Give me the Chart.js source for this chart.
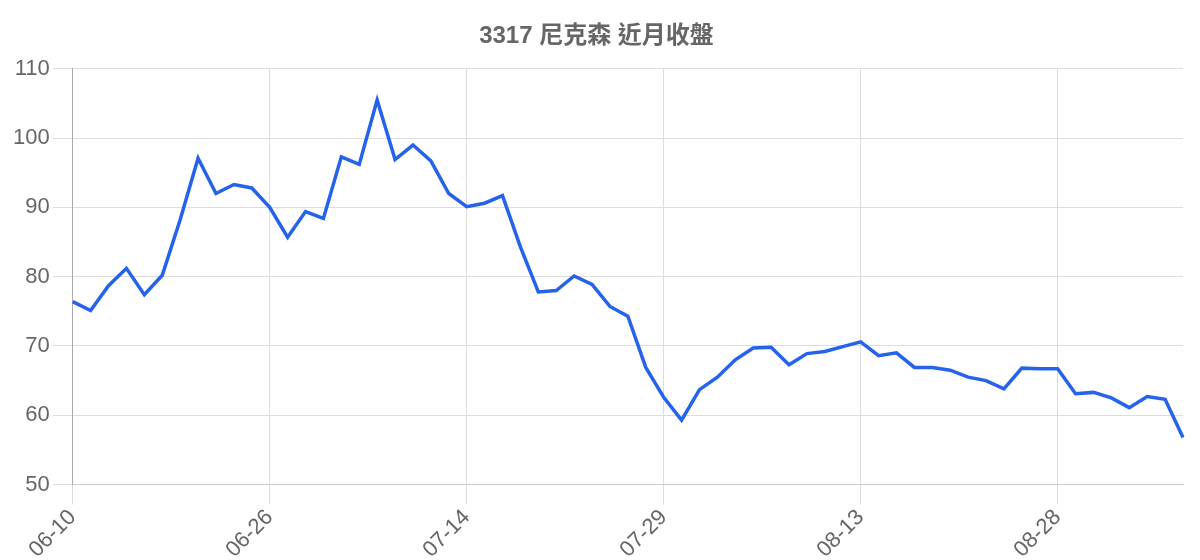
<!DOCTYPE html>
<html>
<head>
<meta charset="utf-8">
<script src="https://cdn.jsdelivr.net/npm/chart.js@4/dist/chart.umd.min.js"></script>
<style>
  html, body { margin: 0; padding: 0; background: #fff; }
  #wrap { width: 1200px; height: 560px; }
</style>
</head>
<body>
<div id="wrap"><canvas id="lineChart"></canvas></div>
<script>
// Trading days shown on the x axis
const dates = [
    '06-10', '06-12', '06-13', '06-16', '06-17', '06-18', '06-19', '06-20', '06-23', '06-24', '06-25',
    '06-26', '06-27', '06-30', '07-01', '07-02', '07-03', '07-04', '07-08', '07-09', '07-10', '07-11',
    '07-14', '07-15', '07-16', '07-17', '07-18', '07-21', '07-22', '07-23', '07-24', '07-25', '07-28',
    '07-29', '07-30', '07-31', '08-01', '08-04', '08-05', '08-06', '08-07', '08-08', '08-11', '08-12',
    '08-13', '08-14', '08-15', '08-18', '08-19', '08-20', '08-21', '08-22', '08-25', '08-26', '08-27',
    '08-28', '08-29', '09-01', '09-02', '09-03', '09-04', '09-05', '09-08'
];

// Closing prices
const closes = [
    76.4, 75.1, 78.7, 81.2, 77.4, 80.2, 88.2, 97.1, 92.0, 93.3, 92.8,
    90.0, 85.7, 89.4, 88.4, 97.3, 96.2, 105.5, 96.9, 99.0, 96.7, 92.0,
    90.1, 90.6, 91.7, 84.3, 77.8, 78.0, 80.1, 78.9, 75.7, 74.3, 66.9,
    62.6, 59.3, 63.7, 65.5, 68.0, 69.7, 69.8, 67.3, 68.9, 69.2, 69.9,
    70.6, 68.6, 69.0, 66.9, 66.9, 66.5, 65.5, 65.0, 63.8, 66.8, 66.7,
    66.7, 63.1, 63.3, 62.5, 61.1, 62.7, 62.3, 56.8
];

const yMin = 50;
const yMax = 110;
const yStep = 10;
const labelEvery = 11;

const textColor = '#666666';
const gridColor = '#dddddd';

let ctx = document.getElementById('lineChart').getContext('2d');
let chart = new Chart(ctx, {
    type: 'line',
    data: {
        labels: dates,
        datasets: [{
            label: '收盤',
            data: closes,
            borderColor: '#2563eb',
            backgroundColor: '#2563eb',
            borderWidth: 3.5,
            pointRadius: 0,
            tension: 0,
            fill: false
        }]
    },
    options: {
        responsive: true,
        maintainAspectRatio: false,
        animation: false,
        layout: {
            padding: { left: 10, right: 17, top: 4, bottom: -3 }
        },
        plugins: {
            legend: { display: false },
            tooltip: { enabled: false },
            title: {
                display: true,
                text: '3317 尼克森 近月收盤',
                color: textColor,
                font: { family: 'Liberation Sans, Arial, "Noto Sans CJK TC", sans-serif', size: 24, weight: 'bold' },
                padding: { top: 18, bottom: 18 }
            }
        },
        scales: {
            x: {
                grid: {
                    color: gridColor,
                    tickLength: 20
                },
                border: { color: '#cccccc' },
                ticks: {
                    autoSkip: false,
                    maxRotation: 45,
                    minRotation: 45,
                    color: textColor,
                    font: { family: 'Liberation Sans, Arial, sans-serif', size: 22 },
                    padding: 0,
                    // only every 11th trading day gets a label and a grid line
                    callback: function (value, index) {
                        return index % labelEvery === 0 ? dates[index] : null;
                    }
                }
            },
            y: {
                min: yMin,
                max: yMax,
                grid: {
                    color: gridColor,
                    tickLength: 20
                },
                border: { color: '#aaaaaa' },
                ticks: {
                    stepSize: yStep,
                    color: textColor,
                    font: { family: 'Liberation Sans, Arial, sans-serif', size: 22 },
                    padding: 3
                }
            }
        }
    }
});
</script>
</body>
</html>
